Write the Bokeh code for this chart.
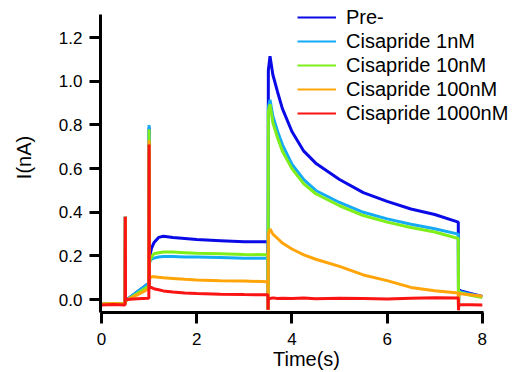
from bokeh.plotting import figure
from bokeh.models import (Range1d, Legend, LegendItem, FixedTicker, PrintfTickFormatter,
                          ColumnDataSource, GlobalInlineStyleSheet)
from bokeh.embed import file_html
from bokeh.resources import INLINE

# time (s)
t = [0.0, 0.25, 0.495, 0.50, 0.505, 0.52, 0.75, 0.995, 1.0, 1.005, 1.05, 1.1, 1.2, 1.3,
     1.5, 1.75, 2.0, 2.5, 3.0, 3.495, 3.50, 3.505, 3.54, 3.6, 3.7, 3.8, 4.0, 4.25, 4.5,
     5.0, 5.5, 6.0, 6.5, 7.0, 7.495, 7.50, 7.505, 7.55, 7.75, 8.0]

# current (nA)
pre = [-0.02, -0.018, -0.02, 0.38, 0.0, -0.003, 0.035, 0.075, 0.79, 0.19, 0.235, 0.26,
       0.285, 0.29, 0.285, 0.28, 0.275, 0.27, 0.265, 0.265, -0.046, 1.05, 1.115, 1.03,
       0.95, 0.875, 0.77, 0.68, 0.625, 0.55, 0.49, 0.45, 0.415, 0.39, 0.355, -0.046,
       0.045, 0.04, 0.028, 0.015]
cis1 = [-0.02, -0.018, -0.02, 0.38, 0.0, -0.003, 0.035, 0.075, 0.80, 0.17, 0.185, 0.19,
        0.195, 0.198, 0.198, 0.195, 0.195, 0.193, 0.19, 0.19, -0.046, 0.88, 0.915, 0.84,
        0.77, 0.71, 0.62, 0.55, 0.50, 0.445, 0.40, 0.37, 0.345, 0.325, 0.30, -0.046,
        0.04, 0.035, 0.025, 0.013]
cis10 = [-0.02, -0.018, -0.02, 0.38, 0.0, -0.003, 0.028, 0.062, 0.78, 0.17, 0.195, 0.21,
         0.215, 0.218, 0.218, 0.215, 0.212, 0.21, 0.207, 0.205, -0.046, 0.86, 0.895, 0.81,
         0.74, 0.68, 0.60, 0.53, 0.485, 0.43, 0.385, 0.355, 0.33, 0.31, 0.28, -0.046,
         0.035, 0.03, 0.02, 0.01]
cis100 = [-0.02, -0.018, -0.02, 0.38, 0.0, -0.003, 0.022, 0.05, 0.73, 0.095, 0.105, 0.105,
          0.102, 0.10, 0.097, 0.093, 0.09, 0.087, 0.085, 0.082, -0.046, 0.30, 0.323, 0.30,
          0.28, 0.259, 0.232, 0.205, 0.185, 0.152, 0.113, 0.087, 0.056, 0.041, 0.03, -0.046,
          0.03, 0.027, 0.022, 0.015]
cis1000 = [-0.025, -0.022, -0.025, 0.38, 0.0, 0.0, 0.004, 0.006, 0.71, 0.055, 0.055, 0.05,
           0.045, 0.04, 0.035, 0.03, 0.028, 0.025, 0.023, 0.022, -0.046, 0.005, 0.005,
           0.008, 0.005, 0.006, 0.005, 0.007, 0.004, 0.006, 0.005, 0.003, 0.006, 0.008,
           0.007, -0.049, -0.022, -0.024, -0.023, -0.025]

labels = ["Pre-", "Cisapride 1nM", "Cisapride 10nM", "Cisapride 100nM", "Cisapride 1000nM"]
colors = ["#0a0ae6", "#14aaf5", "#80ee1a", "#ffa50a", "#fa1414"]
series = [pre, cis1, cis10, cis100, cis1000]

x_ticks = [0, 2, 4, 6, 8]
y_ticks = [0.0, 0.2, 0.4, 0.6, 0.8, 1.0, 1.2]
x_axis_bounds = (-0.021, 8.025)
y_axis_bounds = (-0.059, 1.306)

FONT = "Liberation Sans"

p = figure(width=515, height=372, output_backend="svg", toolbar_location=None,
           x_range=Range1d(-0.021, 8.634), y_range=Range1d(-0.059, 1.361),
           min_border_left=100, min_border_top=2, min_border_right=3, min_border_bottom=59)
p.stylesheets = [GlobalInlineStyleSheet(css="html, body { overflow: hidden; }")]

p.grid.visible = False
p.outline_line_color = None
p.background_fill_color = "white"

for ax in (p.xaxis[0], p.yaxis[0]):
    ax.axis_line_width = 3
    ax.axis_line_color = "black"
    ax.major_tick_line_width = 3
    ax.major_tick_line_color = "black"
    ax.major_tick_out = 11
    ax.major_tick_in = 0
    ax.minor_tick_line_color = None
    ax.major_label_text_font = FONT
    ax.major_label_text_font_size = "17px"
    ax.major_label_text_color = "black"
    ax.axis_label_text_font = FONT
    ax.axis_label_text_font_size = "20px"
    ax.axis_label_text_font_style = "normal"
    ax.axis_label_text_color = "black"

p.xaxis.ticker = FixedTicker(ticks=x_ticks)
p.xaxis.bounds = x_axis_bounds
p.yaxis.ticker = FixedTicker(ticks=y_ticks)
p.yaxis.bounds = y_axis_bounds
p.yaxis.formatter = PrintfTickFormatter(format="%.1f")
p.xaxis.axis_label = "Time(s)"
p.yaxis.axis_label = "I(nA)"
p.xaxis.major_label_standoff = 9
p.xaxis.axis_label_standoff = 0
p.yaxis.major_label_standoff = 7
p.yaxis.axis_label_standoff = 21

for col, ys in zip(colors, series):
    src = ColumnDataSource(dict(t=t, v=ys))
    p.line("t", "v", source=src, line_color=col, line_width=3)

items = []
for lab, col in zip(labels, colors):
    r = p.line(x=[float("nan")], y=[float("nan")], line_color=col, line_width=2)
    items.append(LegendItem(label=lab, renderers=[r]))

legend = Legend(items=items, location=(197, 187), orientation="vertical",
                padding=0, margin=0, spacing=0, label_height=24, glyph_height=24,
                glyph_width=39, label_standoff=10, border_line_color=None,
                background_fill_alpha=0, label_text_font=FONT,
                label_text_font_size="20px", label_text_color="black")
p.add_layout(legend)

open("out.html", "w").write(file_html(p, INLINE))
